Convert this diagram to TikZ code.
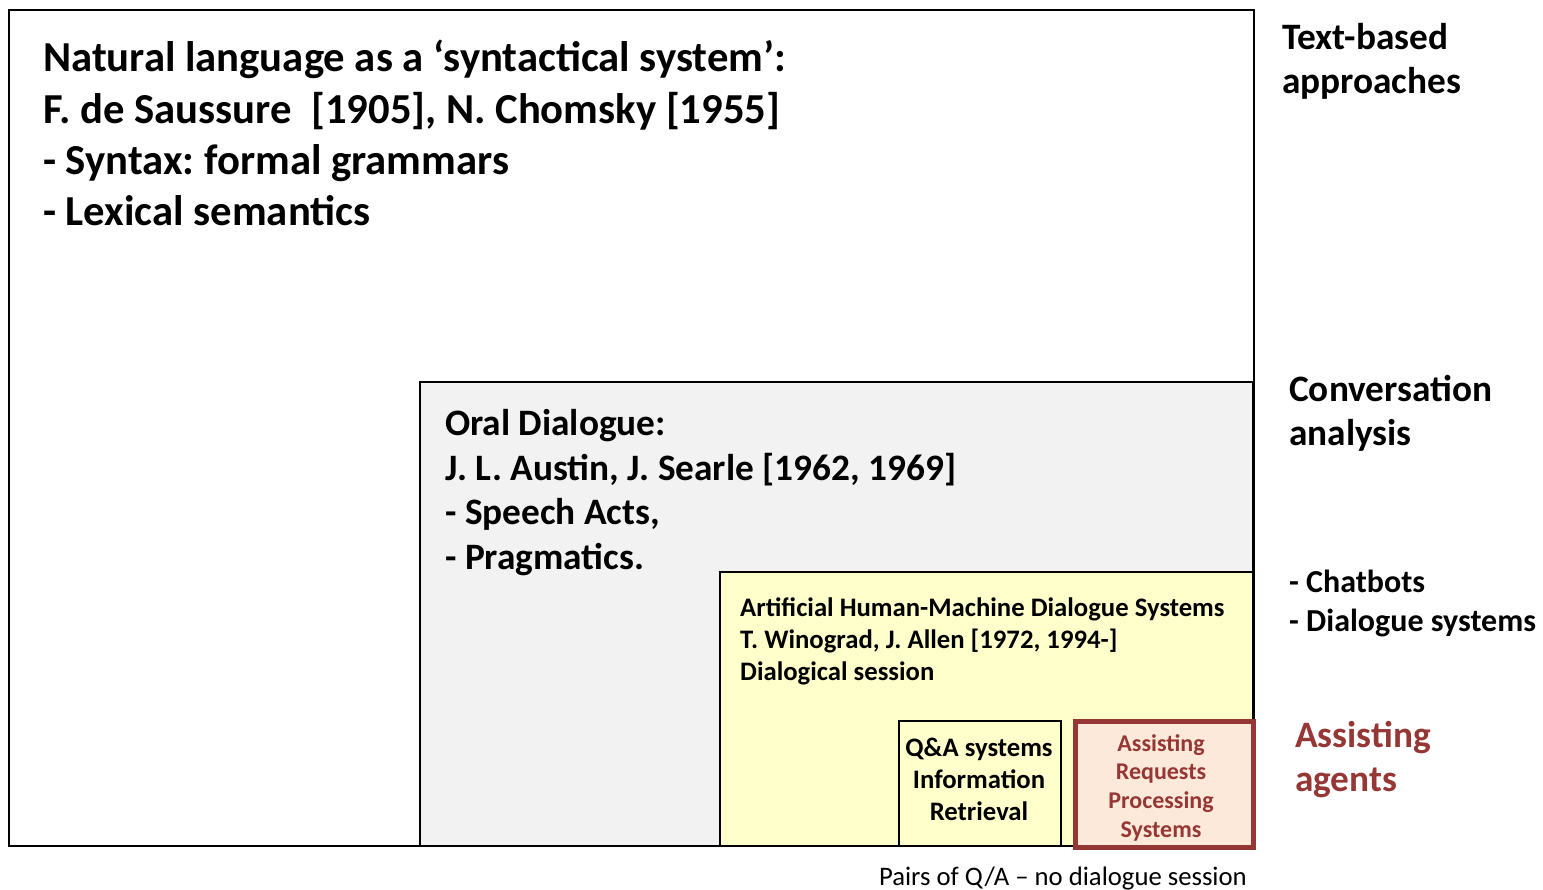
\documentclass[tikz,border=0pt]{standalone}
\usepackage{fontspec}
\setmainfont{Carlito}
\usetikzlibrary{positioning}
\definecolor{agentred}{HTML}{953735}
\definecolor{oralgray}{HTML}{F2F2F2}
\definecolor{sysyellow}{HTML}{FFFFCC}
\definecolor{agentpink}{HTML}{FDE9D9}
\frenchspacing

\begin{document}
\begin{tikzpicture}[
  x=1pt, y=-1pt,
  frame/.style={draw, line width=2pt, anchor=north west, inner sep=0pt},
  txt/.style={anchor=north west, inner sep=0pt, align=left},
  side/.style={anchor=north west, inner sep=0pt, align=left, font=\fontsize{37.3}{44.5}\selectfont\bfseries}
]
\useasboundingbox (0,0) rectangle (1543,890);
% nested areas
\node[frame, fill=white, minimum width=1245pt, minimum height=836pt] (textarea) at (8,9) {};
\node[frame, fill=oralgray, minimum width=833pt, minimum height=464pt] (oral) at (419,381) {};
\node[frame, fill=sysyellow, minimum width=533pt, minimum height=274pt] (dialog) at (719,571) {};
\node[frame, fill=sysyellow, minimum width=162pt, minimum height=125pt] (qa) at (898,720) {};
\node[frame, draw=agentred, line width=5pt, fill=agentpink, minimum width=178pt, minimum height=126pt] (assist) at (1073,719) {};

% texts inside the areas
\node[txt, font=\fontsize{42.7}{51.3}\selectfont\bfseries] (textlbl) at (43,40)
  {Natural language as a ‘syntactical system’:\\F. de Saussure\ \ [1905], N. Chomsky [1955]\\- Syntax: formal grammars\\- Lexical semantics};
\node[txt, font=\fontsize{37.3}{44.8}\selectfont\bfseries] (orallbl) at (445,409)
  {Oral Dialogue:\\J. L. Austin, J. Searle [1962, 1969]\\- Speech Acts,\\- Pragmatics.};
\node[txt, font=\fontsize{26.7}{32}\selectfont\bfseries] (dialoglbl) at (740,598)
  {Artificial Human-Machine Dialogue Systems\\T. Winograd, J. Allen [1972, 1994-]\\Dialogical session};
\node[txt, anchor=north, align=center, font=\fontsize{26.7}{32}\selectfont\bfseries] (qalbl) at (979,738)
  {Q\&A systems\\Information\\Retrieval};
\node[txt, anchor=north, align=center, text=agentred, font=\fontsize{24}{28.7}\selectfont\bfseries] (assistlbl) at (1161,734)
  {Assisting\\Requests\\Processing\\Systems};

% labels on the right
\node[side] (textside) at (1282,23) {Text-based\\approaches};
\node[side] (convside) at (1289,375) {Conversation\\analysis};
\node[side, font=\fontsize{32}{39}\selectfont\bfseries] (chatside) at (1289,570) {- Chatbots\\- Dialogue systems};
\node[side, text=agentred] (agentside) at (1295,721) {Assisting\\agents};
\node[txt, anchor=north east, font=\fontsize{26.7}{30}\selectfont] (pairs) at (1247,867) {Pairs of Q/A -- no dialogue session};
\end{tikzpicture}
\end{document}
